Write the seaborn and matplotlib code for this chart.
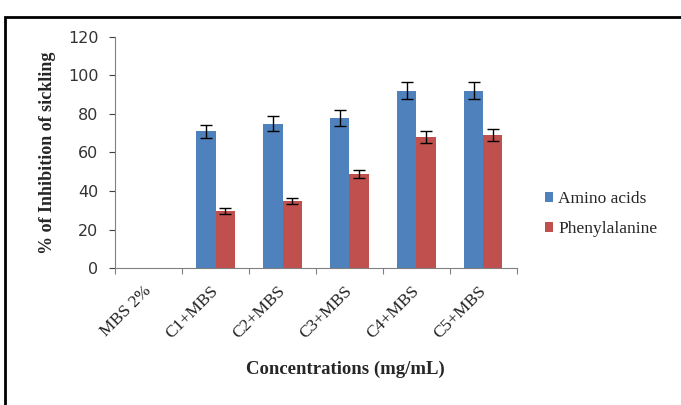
import matplotlib
matplotlib.use("Agg")
import matplotlib.pyplot as plt
import seaborn as sns
import pandas as pd
import numpy as np
from matplotlib.patches import Rectangle

categories = ["MBS 2%", "C1+MBS", "C2+MBS", "C3+MBS", "C4+MBS", "C5+MBS"]
amino_acids = [0, 71, 75, 78, 92, 92]
amino_err = [0, 3.5, 4, 4, 4.5, 4.5]
phenylalanine = [0, 29.5, 35, 49, 68, 69]
phenyl_err = [0, 1.5, 1.5, 2, 3, 3]
series = ["Amino acids", "Phenylalanine"]
colors = ["#4F81BD", "#C0504D"]

df = pd.DataFrame({
    "cat": categories * 2,
    "val": amino_acids + phenylalanine,
    "series": [series[0]] * len(categories) + [series[1]] * len(categories),
})

sns.set_style("white")
fig = plt.figure(figsize=(6.81, 4.05), dpi=100)
ax = fig.add_axes([0.169, 0.338, 0.590, 0.571])

sns.barplot(data=df, x="cat", y="val", hue="series", palette=colors,
            order=categories, hue_order=series, width=0.57, ax=ax,
            errorbar=None, saturation=1, legend=True, linewidth=0,
            edgecolor="none")

for cont, errs in zip(ax.containers, [amino_err, phenyl_err]):
    xs, ys, es = [], [], []
    for bar, e in zip(cont, errs):
        if e > 0:
            xs.append(bar.get_x() + bar.get_width() / 2)
            ys.append(bar.get_height())
            es.append(e)
    ax.errorbar(xs, ys, yerr=es, fmt="none", ecolor="black",
                elinewidth=1.0, capsize=4, capthick=1.0)

ax.set_ylim(0, 120)
ax.set_xlim(-0.5, len(categories) - 0.5)
ax.set_yticks(range(0, 121, 20))
ax.tick_params(axis="y", labelsize=11.5, colors="#404040", length=4, width=0.8,
               direction="out", left=True, pad=8)
for lab in ax.get_yticklabels():
    lab.set_family("DejaVu Sans")
    lab.set_color("#333333")

ax.set_xticks(range(len(categories)))
ax.set_xticklabels(categories, rotation=45, ha="right", va="center",
                   rotation_mode="anchor",
                   family="Liberation Serif", fontsize=12.5, color="#222222")
ax.tick_params(axis="x", which="major", length=0, pad=15)
ax.set_xticks(np.arange(-0.5, len(categories), 1.0), minor=True)
ax.tick_params(axis="x", which="minor", length=4, width=0.8, color="#808080",
               direction="out", bottom=True)

for s in ["top", "right"]:
    ax.spines[s].set_visible(False)
for s in ["left", "bottom"]:
    ax.spines[s].set_color("#808080")
    ax.spines[s].set_linewidth(0.8)

ax.set_xlabel("Concentrations (mg/mL)", family="Liberation Serif",
              fontweight="bold", fontsize=13.5)
ax.xaxis.set_label_coords(0.572, -0.40)
ax.set_ylabel("% of Inhibition of sickling", family="Liberation Serif",
              fontweight="bold", fontsize=13)
ax.yaxis.set_label_coords(-0.147, 0.5)

leg = ax.legend(loc="center left", bbox_to_anchor=(1.03, 0.234), frameon=False,
                prop={"family": "Liberation Serif", "size": 12.5},
                handlelength=0.5, handleheight=0.5, handletextpad=0.3,
                labelspacing=0.83)

fig.patches.append(Rectangle((5 / 681, -0.05), 1.2, 1 - 17 / 405 + 0.05,
                             transform=fig.transFigure, fill=False,
                             edgecolor="black", linewidth=2.0))

fig.savefig("out.png", dpi=100)
